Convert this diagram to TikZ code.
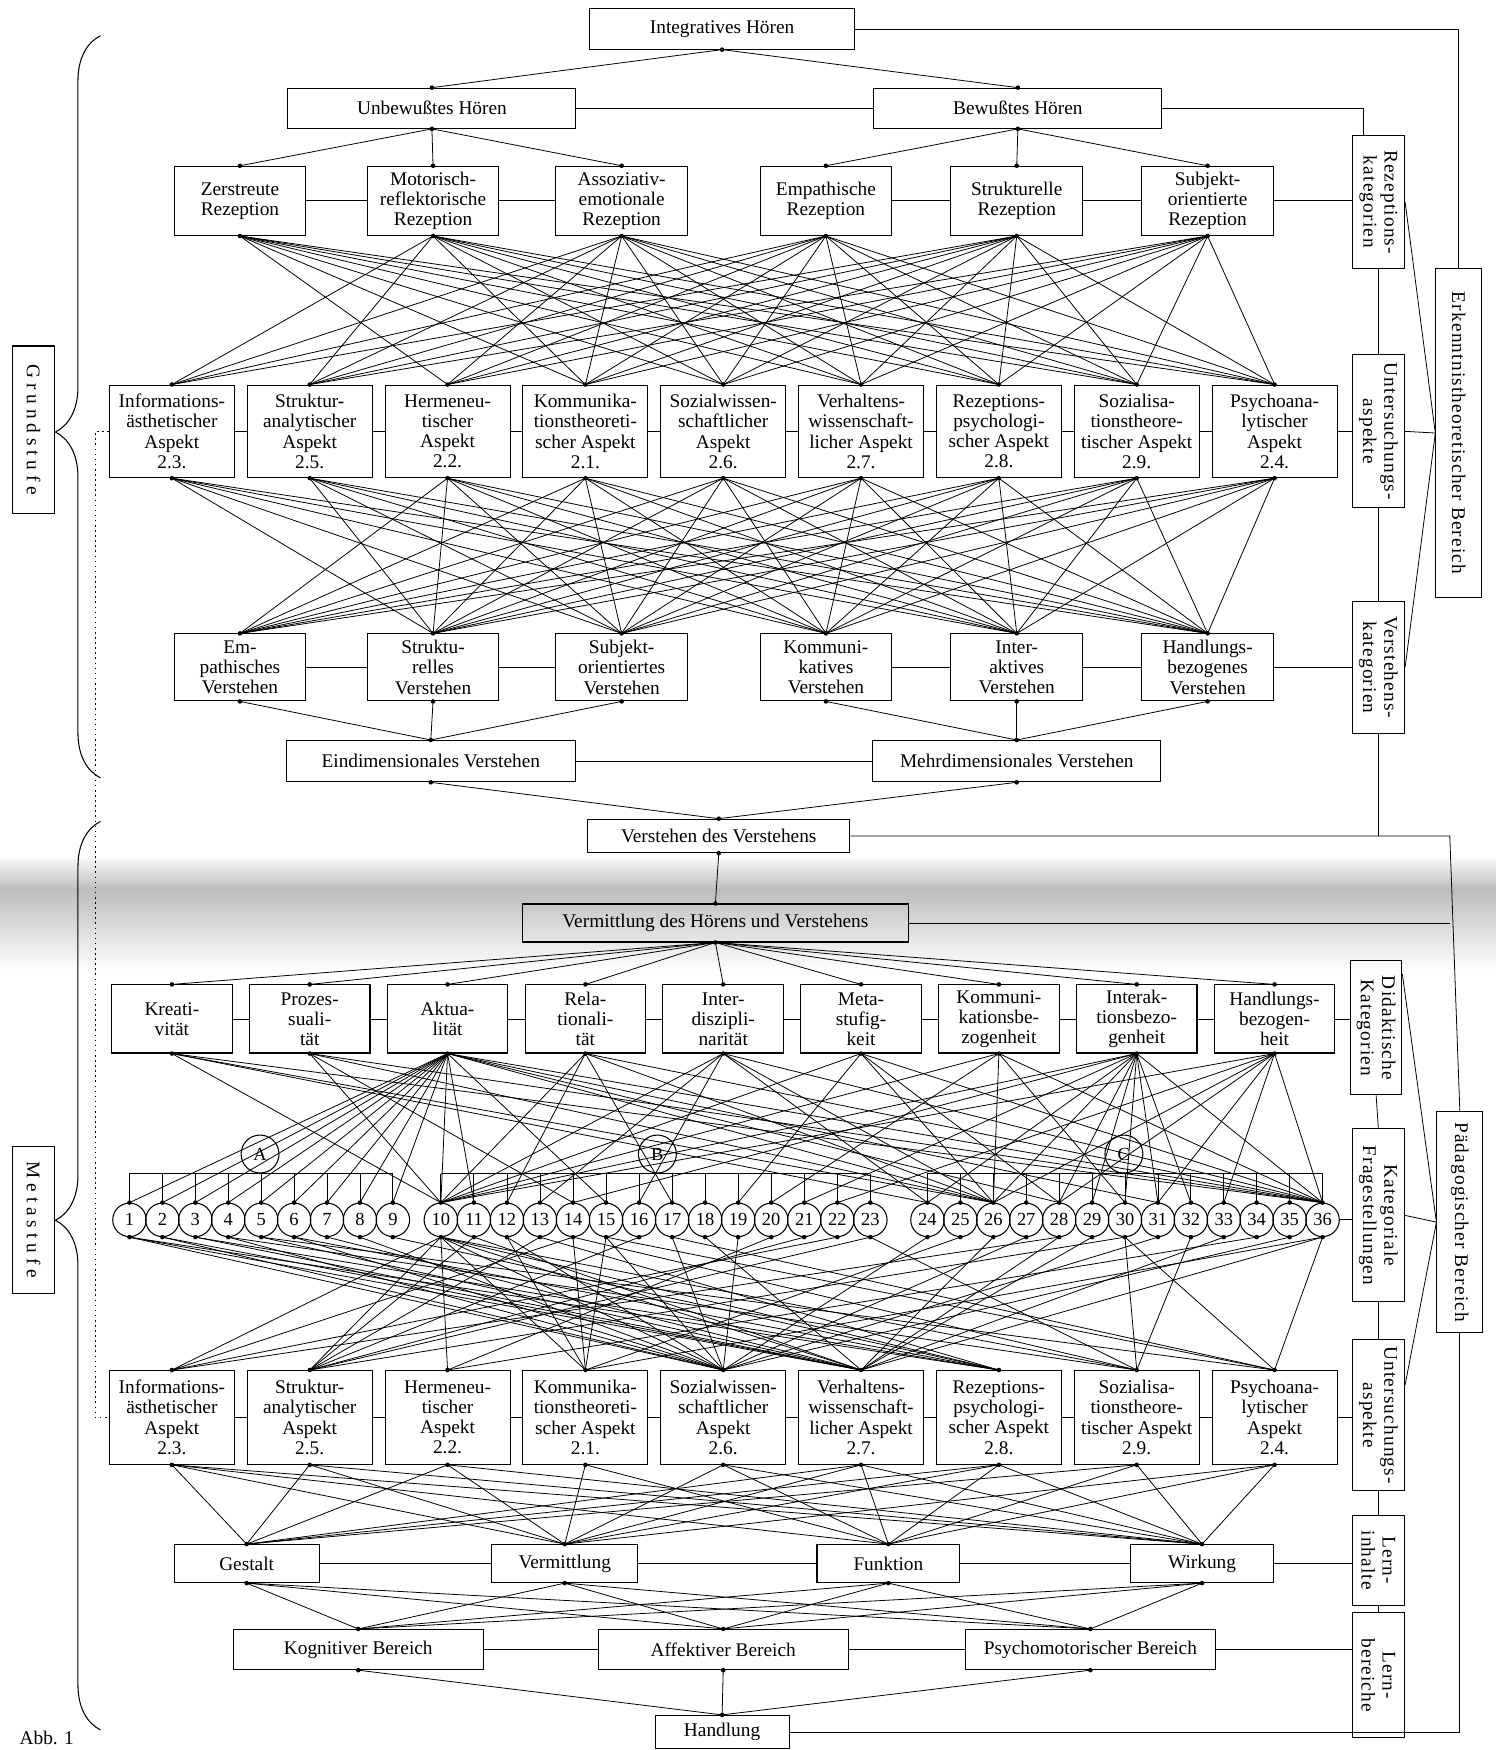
\documentclass[tikz,border=0pt]{standalone}
\usepackage{fontspec}
\setmainfont{Liberation Serif}
\newfontfamily\colfont[LetterSpace=6]{Liberation Serif}
\newfontfamily\stufefont[LetterSpace=25]{Liberation Serif}
\usetikzlibrary{arrows.meta, positioning, calc, decorations.pathreplacing}

\def\pxu{0.022328cm}
\def\aspecttexts{1/{Informations-\\ästhetischer\\Aspekt\\2.3.}, 2/{Struktur-\\analytischer\\Aspekt\\2.5.},
  3/{Hermeneu-\\tischer\\Aspekt\\2.2.}, 4/{Kommunika-\\tionstheoreti-\\scher Aspekt\\2.1.},
  5/{Sozialwissen-\\schaftlicher\\Aspekt\\2.6.}, 6/{Verhaltens-\\wissenschaft-\\licher Aspekt\\2.7.},
  7/{Rezeptions-\\psychologi-\\scher Aspekt\\2.8.}, 8/{Sozialisa-\\tionstheore-\\tischer Aspekt\\2.9.},
  9/{Psychoana-\\lytischer\\Aspekt\\2.4.}}

\tikzset{
  box/.style={draw, line width=0.6pt, align=center, inner sep=1pt,
              font=\fontsize{11}{11.5}\selectfont},
  bw/.style={minimum width=#1*\pxu},
  bh/.style={minimum height=#1*\pxu},
  vtext/.style={rotate=-90, align=center, font=\colfont\fontsize{11}{12}\selectfont},
  stufe/.style={rotate=-90, font=\stufefont\fontsize{11}{12}\selectfont},
  numc/.style={circle, draw, line width=0.6pt, inner sep=0pt, minimum size=30*\pxu,
               font=\fontsize{10.5}{11}\selectfont},
  link/.style={line width=0.45pt},
  dot/.style={fill=black}
}

\begin{document}
\begin{tikzpicture}[x=\pxu, y=-\pxu, line width=0.45pt]
\useasboundingbox (0,0) rectangle (1340,1568);
% page fold of the scan
\shade[top color=white, bottom color=black!26] (0,766) rectangle (1340,797);
\shade[top color=black!26, bottom color=white] (0,797) rectangle (1340,870);

% ---------- Grundstufe ----------
\node[box, bw=237, bh=36] (hIn) at (647,26) {Integratives Hören};
\node[box, bw=258, bh=36] (hUn) at (387,97) {Unbewußtes Hören};
\node[box, bw=258, bh=36] (hBe) at (912,97) {Bewußtes Hören};

\foreach \i/\x/\t in {1/215/{Zerstreute\\Rezeption}, 2/388/{Motorisch-\\reflektorische\\Rezeption},
    3/557/{Assoziativ-\\emotionale\\Rezeption}, 4/740/{Empathische\\Rezeption},
    5/911/{Strukturelle\\Rezeption}, 6/1082/{Subjekt-\\orientierte\\Rezeption}}
  \node[box, bw=118, bh=62] (rz\i) at (\x,180) {\t};

\foreach \i/\t in \aspecttexts
  \node[box, bw=112, bh=83] (ua\i) at ({154+123.5*(\i-1)},386.5) {\t};

\foreach \i/\x/\t in {1/215/{Em-\\pathisches\\Verstehen}, 2/388/{Struktu-\\relles\\Verstehen},
    3/557/{Subjekt-\\orientiertes\\Verstehen}, 4/740/{Kommuni-\\katives\\Verstehen},
    5/911/{Inter-\\aktives\\Verstehen}, 6/1082/{Handlungs-\\bezogenes\\Verstehen}}
  \node[box, bw=118, bh=60] (vs\i) at (\x,598) {\t};

\node[box, bw=259, bh=37] (ev1) at (386,682) {Eindimensionales Verstehen};
\node[box, bw=258, bh=37] (ev2) at (911,682) {Mehrdimensionales Verstehen};
\node[box, bw=235, bh=30] (vdv) at (644,749) {Verstehen des Verstehens};

% ---------- Metastufe ----------
\node[box, bw=346, bh=34] (verm) at (641,827) {Vermittlung des Hörens und Verstehens};

\foreach \i/\t in {1/{Kreati-\\vität}, 2/{Prozes-\\suali-\\tät}, 3/{Aktua-\\lität}, 4/{Rela-\\tionali-\\tät},
    5/{Inter-\\diszipli-\\narität}, 6/{Meta-\\stufig-\\keit}, 7/{Kommuni-\\kationsbe-\\zogenheit},
    8/{Interak-\\tionsbezo-\\genheit}, 9/{Handlungs-\\bezogen-\\heit}}
  \node[box, bw=108, bh=61] (dk\i) at ({154+123.5*(\i-1)},913) {\t};

\foreach \i in {1,...,9}
  \node[numc] (c\i) at ({116+29.5*(\i-1)},1093) {\i};
\foreach \i in {10,...,23}
  \node[numc] (c\i) at ({395+29.6*(\i-10)},1093) {\i};
\foreach \i in {24,...,36}
  \node[numc] (c\i) at ({831+29.5*(\i-24)},1093) {\i};
\node[numc, minimum size=34*\pxu] (gA) at (233,1034) {A};
\node[numc, minimum size=34*\pxu] (gB) at (589,1034) {B};
\node[numc, minimum size=34*\pxu] (gC) at (1007,1034) {C};

\foreach \i/\t in \aspecttexts
  \node[box, bw=112, bh=84] (la\i) at ({154+123.5*(\i-1)},1270) {\t};

\node[box, bw=130, bh=34] (li1) at (221,1401) {Gestalt};
\node[box, bw=131, bh=34] (li2) at (506,1401) {Vermittlung};
\node[box, bw=128, bh=34] (li3) at (796,1401) {Funktion};
\node[box, bw=128, bh=34] (li4) at (1077,1401) {Wirkung};
\node[box, bw=224, bh=36] (lb1) at (321,1478) {Kognitiver Bereich};
\node[box, bw=224, bh=36] (lb2) at (648,1478) {Affektiver Bereich};
\node[box, bw=224, bh=36] (lb3) at (977,1478) {Psychomotorischer Bereich};
\node[box, bw=120, bh=30] (hd) at (647,1552) {Handlung};

% ---------- right column ----------
\node[box, bw=47, bh=120] (rk) at (1235,181) {};
\node[vtext] (rk-t) at (rk) {Rezeptions-\\kategorien};
\node[box, bw=47, bh=137] (uk) at (1235,386.5) {};
\node[vtext] (uk-t) at (uk) {Untersuchungs-\\aspekte};
\node[box, bw=47, bh=118] (vk) at (1235,598) {};
\node[vtext] (vk-t) at (vk) {Verstehens-\\kategorien};
\node[box, bw=41, bh=295] (ek) at (1307,388) {};
\node[vtext] (ek-t) at (ek) {Erkenntnistheoretischer Bereich};

\node[box, bw=46, bh=120] (dkat) at (1233,921) {};
\node[vtext] (dkat-t) at (dkat) {Didaktische\\Kategorien};
\node[box, bw=47, bh=155] (kf) at (1235,1089) {};
\node[vtext] (kf-t) at (kf) {Kategoriale\\Fragestellungen};
\node[box, bw=47, bh=135] (ul) at (1235,1268) {};
\node[vtext] (ul-t) at (ul) {Untersuchungs-\\aspekte};
\node[box, bw=47, bh=81] (lin) at (1235,1398) {};
\node[vtext] (lin-t) at (lin) {Lern-\\inhalte};
\node[box, bw=47, bh=112] (lbe) at (1235,1501) {};
\node[vtext] (lbe-t) at (lbe) {Lern-\\bereiche};
\node[box, bw=41, bh=198] (pb) at (1308,1095) {};
\node[vtext] (pb-t) at (pb) {Pädagogischer Bereich};

% ---------- left column ----------
\node[box, bw=38, bh=150] (gs) at (30,385) {};
\node[stufe] (gs-t) at (gs) {Grundstufe};
\node[box, bw=38, bh=132] (ms) at (30,1093) {};
\node[stufe] (ms-t) at (ms) {Metastufe};
\draw[line width=0.6pt, decorate, decoration={brace, amplitude=0.9cm, aspect=0.466}] (90,697) -- (90,32);
\draw[line width=0.6pt, decorate, decoration={brace, amplitude=0.9cm, aspect=0.561}] (90,1550) -- (90,736);
\draw[dotted, line width=0.9pt] (ua1.west) -- ++(-12,0) |- (la1.west);
\node[anchor=west, font=\fontsize{11}{12}\selectfont] (abb) at (12,1557) {Abb. 1};

% ---------- row links ----------
\draw (hUn.east) -- (hBe.west);
\foreach \a/\b in {1/2, 2/3, 4/5, 5/6} {
  \draw (rz\a.east) -- (rz\b.west);
  \draw (vs\a.east) -- (vs\b.west);
}
\foreach \a [count=\b from 2] in {1,...,8} {
  \draw (ua\a.east) -- (ua\b.west);
  \draw (dk\a.east) -- (dk\b.west);
  \draw (la\a.east) -- (la\b.west);
}
\draw (ev1.east) -- (ev2.west);
\foreach \a [count=\b from 2] in {1,2,3} \draw (li\a.east) -- (li\b.west);
\foreach \a [count=\b from 2] in {1,2} \draw (lb\a.east) -- (lb\b.west);

% ---------- hierarchy ----------
\draw[link] (hIn.south) -- (hUn.north);
\draw[link] (hIn.south) -- (hBe.north);
\foreach \j in {1,2,3} \draw[link] (hUn.south) -- (rz\j.north);
\foreach \j in {4,5,6} \draw[link] (hBe.south) -- (rz\j.north);

\foreach \a/\bs in {1/{3,4,5,6,7,8,9}, 2/{1,2,4,5,6,7,8,9}, 3/{1,...,9}, 4/{1,...,9},
    5/{1,...,9}, 6/{2,...,9}}
  \foreach \b in \bs \draw[link] (rz\a.south) -- (ua\b.north);

\foreach \a/\bs in {1/{2,...,6}, 2/{2,...,6}, 3/{1,...,6}, 4/{1,...,6}, 5/{1,...,6},
    6/{1,...,6}, 7/{1,...,6}, 8/{1,...,6}, 9/{1,...,6}}
  \foreach \b in \bs \draw[link] (ua\a.south) -- (vs\b.north);

\foreach \j in {1,2,3} \draw[link] (vs\j.south) -- (ev1.north);
\foreach \j in {4,5,6} \draw[link] (vs\j.south) -- (ev2.north);
\draw[link] (ev1.south) -- (vdv.north);
\draw[link] (ev2.south) -- (vdv.north);
\draw[link] (vdv.south) -- (verm.north);
\foreach \j in {1,...,9} \draw[link] (verm.south) -- (dk\j.north);

% groups A, B, C
\draw (c1 |- gA.south) -- (c9 |- gA.south);
\draw (c10 |- gB.south) -- (c23 |- gB.south);
\draw (c24 |- gC.south) -- (c36 |- gC.south);
\foreach \i in {1,...,9} \draw (c\i |- gA.south) -- (c\i.north);
\foreach \i in {10,...,23} \draw (c\i |- gB.south) -- (c\i.north);
\foreach \i in {24,...,36} \draw (c\i |- gC.south) -- (c\i.north);

\foreach \a/\bs in {1/{10,24,26,36}, 2/{10,14,26,36}, 3/{1,...,11,15,26,28,31,36},
    4/{10,12,17,26,36}, 5/{10,13,16,24,26,36}, 6/{10,19,26,28,36}, 7/{10,20,26,30,36},
    8/{10,14,21,24,26,28,29,30,31,32,36}, 9/{10,22,26,28,31,33,36}}
  \foreach \b in \bs \draw[link] (dk\a.south) -- (c\b.north);

\foreach \a/\bs in {1/{5,6,7}, 2/{5,6}, 3/{6,7}, 4/{5,8}, 5/{6,9}, 6/{5,7}, 7/{6}, 8/{5}, 9/{7},
    10/{1,...,8}, 11/{2,6}, 12/{4,5}, 13/{2,7}, 14/{1,4,8}, 15/{4,5,9}, 16/{2}, 17/{5,9},
    18/{6}, 19/{5}, 20/{3}, 21/{2}, 22/{1}, 23/{2,8}, 24/{5}, 25/{4}, 26/{6}, 27/{5},
    28/{1,6}, 29/{6}, 30/{2,8,9}, 31/{5}, 32/{8}, 33/{6}, 34/{3}, 35/{5}, 36/{4,6,9}}
  \foreach \b in \bs \draw[link] (c\a.south) -- (la\b.north);

\foreach \a/\bs in {1/{1,2,3,4}, 2/{1,2,4}, 3/{1,2,4}, 4/{2,3}, 5/{2,3,4}, 6/{1,2,3,4},
    7/{1,2,3,4}, 8/{1,3,4}, 9/{2,3,4}}
  \foreach \b in \bs \draw[link] (la\a.south) -- (li\b.north);

\foreach \a in {1,...,4}
  \foreach \b in {1,2,3} \draw[link] (li\a.south) -- (lb\b.north);
\foreach \b in {1,2,3} \draw[link] (lb\b.south) -- (hd.north);

% ---------- right column links ----------
\draw (hIn.east) -| (ek.north);
\draw (hBe.east) -| ([xshift=-13*\pxu]rk.north);
\draw (rz6.east) -- (rz6.east -| rk.west);
\draw (ua9.east) -- (ua9.east -| uk.west);
\draw (vs6.east) -- (vs6.east -| vk.west);
\draw (rk.south) -- (uk.north);
\draw (uk.south) -- (vk.north);
\draw (rk.east) -- (ek.west);
\draw (uk.east) -- (ek.west);
\draw (vk.east) -- (ek.west);
\coordinate (rj) at (1299,749);
\draw (vk.south) -- (vk.south |- vdv.east);
\draw (vdv.east) -- (rj) -- (pb.north);
\draw (verm.east) -- (verm.east -| rj);

\draw (dk9.east) -- (dk9.east -| dkat.west);
\draw (c36.east) -- (c36.east -| kf.west);
\draw (la9.east) -- (la9.east -| ul.west);
\draw (li4.east) -- (li4.east -| lin.west);
\draw (lb3.east) -- (lb3.east -| lbe.west);
\draw (dkat.south) -- (kf.north);
\draw (kf.south) -- (ul.north);
\draw (ul.south) -- (lin.north);
\draw (lin.south) -- (lbe.north);
\draw ($(dkat.north east)!0.1!(dkat.south east)$) -- (pb.west);
\draw (kf.east) -- (pb.west);
\draw ($(ul.north east)!0.3!(ul.south east)$) -- (pb.west);
\draw (hd.east) -| (pb.south);

% ---------- connection dots ----------
\fill (hIn.south) circle (1.3pt);
\foreach \n in {hUn, hBe, ev1, ev2, vdv, verm}
  \fill (\n.north) circle (1.3pt) (\n.south) circle (1.3pt);
\foreach \i in {1,...,6}
  \fill (rz\i.north) circle (1.3pt) (rz\i.south) circle (1.3pt)
        (vs\i.north) circle (1.3pt) (vs\i.south) circle (1.3pt);
\foreach \i in {1,...,9}
  \fill (ua\i.north) circle (1.3pt) (ua\i.south) circle (1.3pt)
        (dk\i.north) circle (1.3pt) (dk\i.south) circle (1.3pt)
        (la\i.north) circle (1.3pt) (la\i.south) circle (1.3pt);
\foreach \i in {1,...,36}
  \fill (c\i.north) circle (1.3pt) (c\i.south) circle (1.3pt);
\foreach \i in {1,...,4}
  \fill (li\i.north) circle (1.3pt) (li\i.south) circle (1.3pt);
\foreach \i in {1,2,3}
  \fill (lb\i.north) circle (1.3pt) (lb\i.south) circle (1.3pt);
\fill (hd.north) circle (1.3pt);
\end{tikzpicture}
\end{document}
